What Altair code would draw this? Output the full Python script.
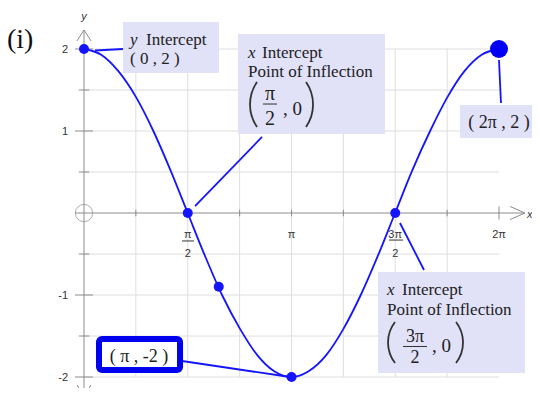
import altair as alt
import pandas as pd

# ---- data: y = 2 cos x on [0, 2pi] ----
curve_x = [0.00, 0.26, 0.52, 0.79, 1.05, 1.31, 1.57, 1.83, 2.09, 2.36, 2.62, 2.88, 3.14,
           3.40, 3.67, 3.93, 4.19, 4.45, 4.71, 4.97, 5.24, 5.50, 5.76, 6.02, 6.28]
curve_y = [2.00, 1.93, 1.73, 1.41, 1.00, 0.52, 0.00, -0.52, -1.00, -1.41, -1.73, -1.93, -2.00,
           -1.93, -1.73, -1.41, -1.00, -0.52, 0.00, 0.52, 1.00, 1.41, 1.73, 1.93, 2.00]
point_x = [0.00, 1.571, 2.04, 3.142, 4.712]
point_y = [2.00, 0.00, -0.90, -2.00, 0.00]
end_x = [6.283]
end_y = [2.00]

grid_x = [0.785, 1.571, 2.356, 3.142, 3.927, 4.712, 5.498]
grid_y = [-2.0, -1.5, -1.0, -0.5, 0.5, 1.0, 1.5, 2.0]
ytick_major = [-2.0, -1.0, 1.0, 2.0]
ytick_minor = [-1.5, -0.5, 0.5, 1.5]
ytick_labels = ["-2", "-1", "1", "2"]

BLUE = "#1414ff"
AXIS = "#8c8c8c"
GRID = "#dedede"
FILL = "#e1e1f8"
INK = "#222222"
SERIF = "Liberation Serif"
SANS = "Liberation Sans"

XS = alt.Scale(domain=[-1.1507, 6.7827], nice=False, zero=False)
YS = alt.Scale(domain=[-2.1341, 2.5], nice=False, zero=False)


def X(f="x"):
    return alt.X(f"{f}:Q", scale=XS, axis=None)


def Y(f="y"):
    return alt.Y(f"{f}:Q", scale=YS, axis=None)


def rules(df, color, width=1):
    return alt.Chart(df).mark_rule(color=color, strokeWidth=width).encode(
        x=X("x"), y=Y("y"), x2="x2:Q", y2="y2:Q")


def texts(df, **kw):
    return alt.Chart(df).mark_text(**kw).encode(x=X("x"), y=Y("y"), text="t:N")


def paren(df, t0, t1, r):
    return alt.Chart(df).mark_arc(theta=t0, theta2=t1, radius=r + 0.9, radius2=r - 0.9,
                                  color="#333333").encode(x=X(), y=Y())


# ---- grid ----
vgrid = pd.DataFrame({"x": grid_x, "x2": grid_x, "y": [-2.0] * len(grid_x), "y2": [2.0] * len(grid_x)})
hgrid = pd.DataFrame({"x": [0.0] * len(grid_y), "x2": [6.283] * len(grid_y), "y": grid_y, "y2": grid_y})

# ---- axes, ticks and arrows ----
axes = pd.DataFrame({
    "x":  [0.0, -0.136, 0.0, 0.0, 0.0, 0.0, 6.677, 6.677],
    "y":  [2.232, 0.0, 2.232, 2.232, -2.244, -2.244, 0.0, 0.0],
    "x2": [0.0, 6.677, -0.106, 0.106, -0.106, 0.106, 6.450, 6.450],
    "y2": [-2.244, 0.0, 2.098, 2.098, -2.098, -2.098, 0.08, -0.08],
})
xt = grid_x + [6.283]
xticks = pd.DataFrame({"x": xt, "x2": xt,
                       "y": [0.04] * len(grid_x) + [0.08],
                       "y2": [-0.04] * len(grid_x) + [-0.08]})
yticks = pd.DataFrame({"x": [-0.136] * 4 + [-0.08] * 4, "x2": [0.136] * 4 + [0.08] * 4,
                       "y": ytick_major + ytick_minor, "y2": ytick_major + ytick_minor})
origin = pd.DataFrame({"x": [0.0], "y": [0.0]})

# x tick labels (fractions of pi)
xlab = pd.DataFrame({"x": [1.571, 1.571, 3.142, 4.712, 4.712, 6.283],
                     "y": [-0.305, -0.537, -0.305, -0.305, -0.537, -0.305],
                     "t": ["π", "2", "π", "3π", "2", "2π"]})
xbars = pd.DataFrame({"x": [1.484, 4.618], "x2": [1.665, 4.830], "y": [-0.341, -0.330], "y2": [-0.341, -0.330]})
ylab = pd.DataFrame({"x": [-0.242] * 4, "y": ytick_major, "t": ytick_labels})
axis_names = pd.DataFrame({"x": [0.0, 6.75], "y": [2.354, -0.06], "t": ["y", "x"]})

# ---- annotation boxes ----
boxes = pd.DataFrame({
    "x":  [0.590, 2.332, 5.693, 4.451],
    "x2": [2.044, 4.557, 6.874, 6.677],
    "y":  [2.329, 2.183, 1.317, -0.720],
    "y2": [1.707, 0.963, 0.915, -1.951],
})
box5 = pd.DataFrame({"x": [0.227], "x2": [1.454], "y": [-1.537], "y2": [-1.915]})
leaders = pd.DataFrame({
    "x":  [0.167, 1.681, 6.283, 4.784, 1.484],
    "y":  [1.982, 0.085, 1.866, -0.122, -1.805],
    "x2": [0.590, 2.695, 6.313, 5.148, 3.119],
    "y2": [2.000, 0.927, 1.341, -0.695, -2.000],
})

label_left = pd.DataFrame({
    "x": [0.939, 0.696, 2.695, 2.483, 4.815, 4.587],
    "y": [2.049, 1.817, 1.890, 1.659, -1.000, -1.244],
    "t": ["Intercept", "( 0 , 2 )", "Intercept", "Point of Inflection", "Intercept", "Point of Inflection"],
})
label_comma = pd.DataFrame({"x": [3.013, 5.269], "y": [1.195, -1.695], "t": [", 0", ", 0"]})
label_ital = pd.DataFrame({"x": [0.696, 2.483, 4.587], "y": [2.049, 1.890, -1.000], "t": ["y", "x", "x"]})
label_frac2 = pd.DataFrame({"x": [2.816, 2.816], "y": [1.378, 1.073], "t": ["π", "2"]})
label_frac4 = pd.DataFrame({"x": [5.011, 5.011], "y": [-1.568, -1.835], "t": ["3π", "2"]})
label_point = pd.DataFrame({"x": [6.283, 0.833], "y": [1.037, -1.817], "t": ["( 2π , 2 )", "( π , -2 )"]})
fbars = pd.DataFrame({"x": [2.710, 4.830], "x2": [2.922, 5.193], "y": [1.329, -1.628], "y2": [1.329, -1.628]})
# large brackets drawn as thin arcs (anchor = arc centre)
lp2 = pd.DataFrame({"x": [3.113], "y": [1.323]})
rp2 = pd.DataFrame({"x": [2.868], "y": [1.323]})
lp4 = pd.DataFrame({"x": [5.110], "y": [-1.579]})
rp4 = pd.DataFrame({"x": [5.231], "y": [-1.579]})
panel = pd.DataFrame({"x": [-1.166], "y": [2.012], "t": ["(i)"]})

curve = pd.DataFrame({"x": curve_x, "y": curve_y})
pts = pd.DataFrame({"x": point_x, "y": point_y})
endpt = pd.DataFrame({"x": end_x, "y": end_y})

layers = [
    rules(vgrid, GRID),
    rules(hgrid, GRID),
    rules(axes, AXIS),
    rules(xticks, AXIS),
    rules(yticks, AXIS),
    alt.Chart(origin).mark_point(shape="circle", size=300, filled=False, color=AXIS, strokeWidth=1)
    .encode(x=X(), y=Y()),
    texts(xlab, font=SANS, fontSize=11, align="center", baseline="alphabetic", color="#333333"),
    rules(xbars, "#333333"),
    texts(ylab, font=SANS, fontSize=11, align="right", baseline="middle", dy=1, color="#333333"),
    texts(axis_names, font=SANS, fontSize=11, fontStyle="italic", align="center", baseline="alphabetic",
          color="#333333"),
    alt.Chart(curve).mark_line(color=BLUE, strokeWidth=1.8, interpolate="monotone").encode(x=X(), y=Y()),
    rules(leaders, BLUE, width=1.8),
    alt.Chart(boxes).mark_rect(color=FILL).encode(x=X("x"), y=Y("y"), x2="x2:Q", y2="y2:Q"),
    alt.Chart(box5).mark_rect(fill="white", stroke="#0000f0", strokeWidth=6, cornerRadius=3)
    .encode(x=X("x"), y=Y("y"), x2="x2:Q", y2="y2:Q"),
    alt.Chart(pts).mark_point(shape="circle", size=100, filled=True, opacity=1, color=BLUE)
    .encode(x=X(), y=Y()),
    alt.Chart(endpt).mark_point(shape="circle", size=324, filled=True, opacity=1, color="#0000f5")
    .encode(x=X(), y=Y()),
    texts(label_left, font=SERIF, fontSize=17, align="left", baseline="alphabetic", color=INK),
    texts(label_comma, font=SERIF, fontSize=19, align="left", baseline="alphabetic", color=INK),
    texts(label_ital, font=SERIF, fontSize=17, fontStyle="italic", align="left", baseline="alphabetic",
          color=INK),
    texts(label_frac2, font=SERIF, fontSize=20, align="center", baseline="alphabetic", color=INK),
    texts(label_frac4, font=SERIF, fontSize=18, align="center", baseline="alphabetic", color=INK),
    texts(label_point, font=SERIF, fontSize=18, align="center", baseline="alphabetic", color=INK),
    rules(fbars, "#333333"),
    paren(lp2, 4.108, 5.316, 39.6),
    paren(rp2, 0.967, 2.175, 39.6),
    paren(lp4, 4.054, 5.370, 33.5),
    paren(rp4, 0.913, 2.229, 33.5),
    texts(panel, font=SERIF, fontSize=28, align="left", baseline="alphabetic", color="#111111"),
]

chart = alt.layer(*layers).properties(
    width=524, height=380, padding=0, autosize=alt.AutoSizeParams(type="none")
).configure_view(stroke=None)

chart.save("out.html", embed_options={"renderer": "svg", "actions": False})
